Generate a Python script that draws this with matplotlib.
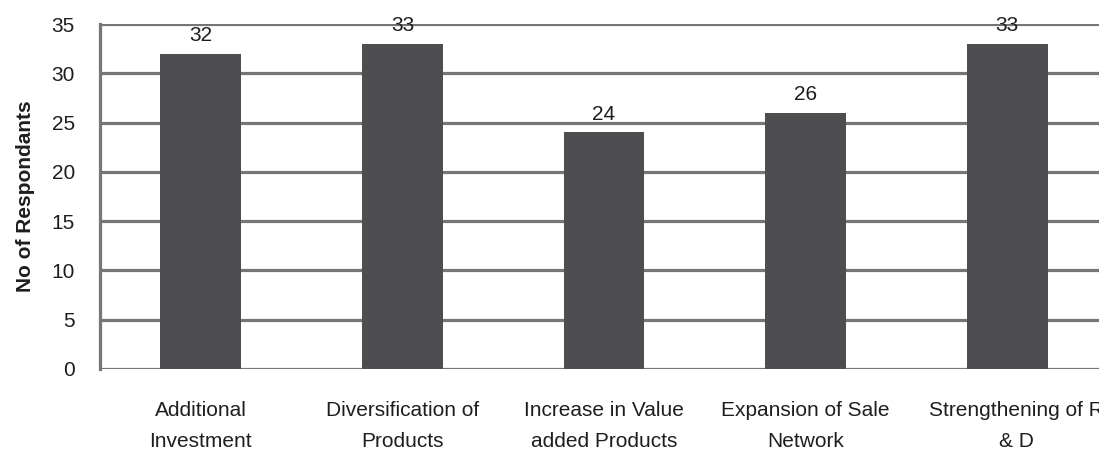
import matplotlib
matplotlib.use("Agg")
import matplotlib.pyplot as plt
from matplotlib.transforms import ScaledTranslation

categories = [
    "Additional\nInvestment",
    "Diversification of\nProducts",
    "Increase in Value\nadded Products",
    "Expansion of Sale\nNetwork",
    "Strengthening of R\n& D",
]
respondents = [32, 33, 24, 26, 33]
y_ticks = [0, 5, 10, 15, 20, 25, 30, 35]

plt.rcParams["font.family"] = ["Liberation Sans", "DejaVu Sans"]

W, H = 1099, 449
fig = plt.figure(figsize=(W / 100, H / 100), dpi=100)
ax = fig.add_axes([100 / W, 80 / H, 1008 / W, 345 / H])

grid_color = "#767676"
text_color = "#1e1e1e"

x = list(range(len(categories)))
bars = ax.bar(x, respondents, width=0.4, color="#4e4e50", zorder=3)

for rect, val in zip(bars, respondents):
    ax.annotate(
        str(val),
        xy=(rect.get_x() + rect.get_width() / 2, val),
        xytext=(0, 6), textcoords="offset points",
        ha="center", va="bottom", fontsize=15, color=text_color, zorder=5,
    )

ax.set_xlim(-0.5, len(categories) - 0.5)
ax.set_ylim(0, 35)
ax.set_yticks(y_ticks)
ax.set_xticks(x)
ax.set_xticklabels(categories)

# horizontal rules behind the bars
for t in y_ticks:
    ax.axhline(t, color=grid_color, linewidth=2.3, zorder=1)

for side in ("top", "right", "bottom"):
    ax.spines[side].set_visible(False)
ax.spines["left"].set_color(grid_color)
ax.spines["left"].set_linewidth(2.3)
ax.spines["left"].set_zorder(4)

ax.tick_params(axis="y", length=0, pad=18, labelsize=15, labelcolor=text_color)
ax.tick_params(axis="x", length=0, pad=23, labelsize=15, labelcolor=text_color)

labels = ax.get_xticklabels()
for lbl in labels:
    lbl.set_linespacing(1.8)
# last category label sits a little right of its bar
labels[-1].set_transform(labels[-1].get_transform()
                         + ScaledTranslation(9 / 100, 0, fig.dpi_scale_trans))

ax.set_ylabel("No of Respondants", fontsize=15, fontweight="bold",
              color=text_color, labelpad=12)

fig.savefig("out.png", dpi=100)
